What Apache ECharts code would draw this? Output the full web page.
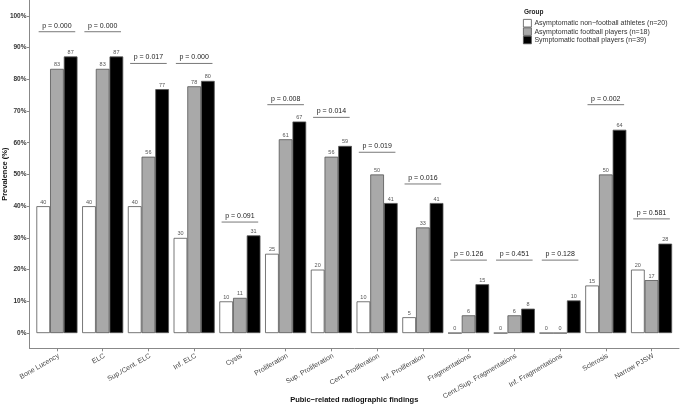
<!DOCTYPE html>
<html>
<head>
<meta charset="utf-8">
<script src="https://cdn.jsdelivr.net/npm/echarts@6/dist/echarts.min.js"></script>
<style>
  html, body { margin: 0; padding: 0; background: #fff; }
  #chart { width: 680px; height: 406px; }
</style>
</head>
<body>
<div id="chart"></div>
<script>
// categories (x axis)
const findings = [
  'Bone Lucency', 'ELC', 'Sup./Cent. ELC', 'Inf. ELC', 'Cysts', 'Proliferation',
  'Sup. Proliferation', 'Cent. Proliferation', 'Inf. Proliferation', 'Fragmentations',
  'Cent./Sup. Fragmentations', 'Inf. Fragmentations', 'Sclerosis', 'Narrow PJSW'
];

// prevalence (%) per group
const nonFootball = [40, 40, 40, 30, 10, 25, 20, 10, 5, 0, 0, 0, 15, 20];
const asymFootball = [83.3, 83.3, 55.6, 77.8, 11.1, 61.1, 55.6, 50, 33.3, 5.6, 5.6, 0, 50, 16.7];
const sympFootball = [87.2, 87.2, 76.9, 79.5, 30.8, 66.7, 59.0, 41.0, 41.0, 15.4, 7.7, 10.3, 64.1, 28.2];

// p-values and the height (%) of their bracket line
const pValues = ['0.000', '0.000', '0.017', '0.000', '0.091', '0.008', '0.014',
  '0.019', '0.016', '0.126', '0.451', '0.128', '0.002', '0.581'];
const pLevels = [95, 95, 85, 85, 35, 72, 68, 57, 47, 23, 23, 23, 72, 36];

const yTicks = [0, 10, 20, 30, 40, 50, 60, 70, 80, 90, 100];
const xTicks = findings.map((f, i) => i);

const groupNames = [
  'Asymptomatic non\u2212football athletes (n=20)',
  'Asymptomatic football players (n=18)',
  'Symptomatic football players (n=39)'
];

const FONT = 'Liberation Sans, Arial, sans-serif';
const myChart = echarts.init(document.getElementById('chart'));

const barSeries = (name, values, color) => ({
  name: name,
  type: 'bar',
  barWidth: 13.7,
  barGap: '0%',
  data: values.map((v, i) => [i, v]),
  itemStyle: { color: color, borderColor: '#555', borderWidth: 0.8 },
  label: {
    show: true,
    position: 'top',
    distance: 1,
    fontFamily: FONT,
    fontSize: 5.5,
    color: '#555',
    formatter: p => Math.round(p.value[1])
  },
  emphasis: { disabled: true },
  animation: false
});

const option = {
  animation: false,
  textStyle: { fontFamily: FONT },
  title: {
    text: 'Group',
    left: 524,
    top: 9,
    padding: 0,
    textStyle: { fontFamily: FONT, fontSize: 6.5, fontWeight: 'bold', color: '#222' }
  },
  legend: {
    orient: 'vertical',
    left: 523,
    top: 19,
    itemWidth: 8,
    itemHeight: 7.6,
    itemGap: 0,
    padding: 0,
    icon: 'rect',
    textStyle: { fontFamily: FONT, fontSize: 7, color: '#333', padding: [0, 0, 0, -2] },
    data: [
      { name: groupNames[0], itemStyle: { color: '#fff', borderColor: '#555', borderWidth: 0.8 } },
      { name: groupNames[1], itemStyle: { color: '#a9a9a9', borderColor: '#555', borderWidth: 0.8 } },
      { name: groupNames[2], itemStyle: { color: '#000', borderColor: '#555', borderWidth: 0.8 } }
    ],
    selectedMode: false
  },
  grid: { left: 29.5, right: 1, top: 0, bottom: 57.7, containLabel: false, outerBoundsMode: 'none' },
  xAxis: {
    type: 'value',
    min: -0.6,
    max: 13.6,
    name: 'Pubic\u2212related radiographic findings',
    nameLocation: 'middle',
    nameGap: 48,
    nameMoveOverlap: false,
    nameTextStyle: { fontFamily: FONT, fontSize: 7.5, fontWeight: 'bold', color: '#111' },
    axisLine: { show: true, onZero: false, lineStyle: { color: '#888', width: 1 } },
    axisTick: { show: true, customValues: xTicks, length: 3, lineStyle: { color: '#888' } },
    axisLabel: {
      customValues: xTicks,
      rotate: 30,
      margin: 4,
      verticalAlign: 'top',
      fontFamily: FONT,
      fontSize: 7,
      color: '#444',
      formatter: v => findings[v]
    },
    splitLine: { show: false }
  },
  yAxis: {
    type: 'value',
    min: -4.8,
    max: 105,
    name: 'Prevalence (%)',
    nameLocation: 'middle',
    nameGap: 21,
    nameMoveOverlap: false,
    nameTextStyle: { fontFamily: FONT, fontSize: 7.5, fontWeight: 'bold', color: '#111' },
    axisLine: { show: true, onZero: false, lineStyle: { color: '#888', width: 1 } },
    axisTick: { show: true, customValues: yTicks, length: 2.5, lineStyle: { color: '#888' } },
    axisLabel: {
      customValues: yTicks,
      margin: 3,
      fontFamily: FONT,
      fontSize: 6.5,
      fontWeight: 'bold',
      color: '#333',
      formatter: v => v + '%'
    },
    splitLine: { show: false }
  },
  series: [
    barSeries(groupNames[0], nonFootball, '#fff'),
    barSeries(groupNames[1], asymFootball, '#a9a9a9'),
    barSeries(groupNames[2], sympFootball, '#000'),
    {
      type: 'custom',
      name: 'p',
      silent: true,
      data: pLevels.map((lv, i) => [i, lv]),
      encode: { x: 0, y: 1 },
      renderItem: (params, api) => {
        const i = api.value(0);
        const lv = api.value(1);
        const a = api.coord([i - 0.4, lv]);
        const b = api.coord([i + 0.4, lv]);
        return {
          type: 'group',
          children: [
            {
              type: 'line',
              shape: { x1: a[0], y1: a[1], x2: b[0], y2: b[1] },
              style: { stroke: '#555', lineWidth: 0.8 }
            },
            {
              type: 'text',
              style: {
                text: 'p = ' + pValues[i],
                x: (a[0] + b[0]) / 2,
                y: a[1] - 2.5,
                align: 'center',
                verticalAlign: 'bottom',
                fontFamily: FONT,
                fontSize: 7,
                fill: '#222'
              }
            }
          ]
        };
      }
    }
  ]
};

myChart.setOption(option);
</script>
</body>
</html>
